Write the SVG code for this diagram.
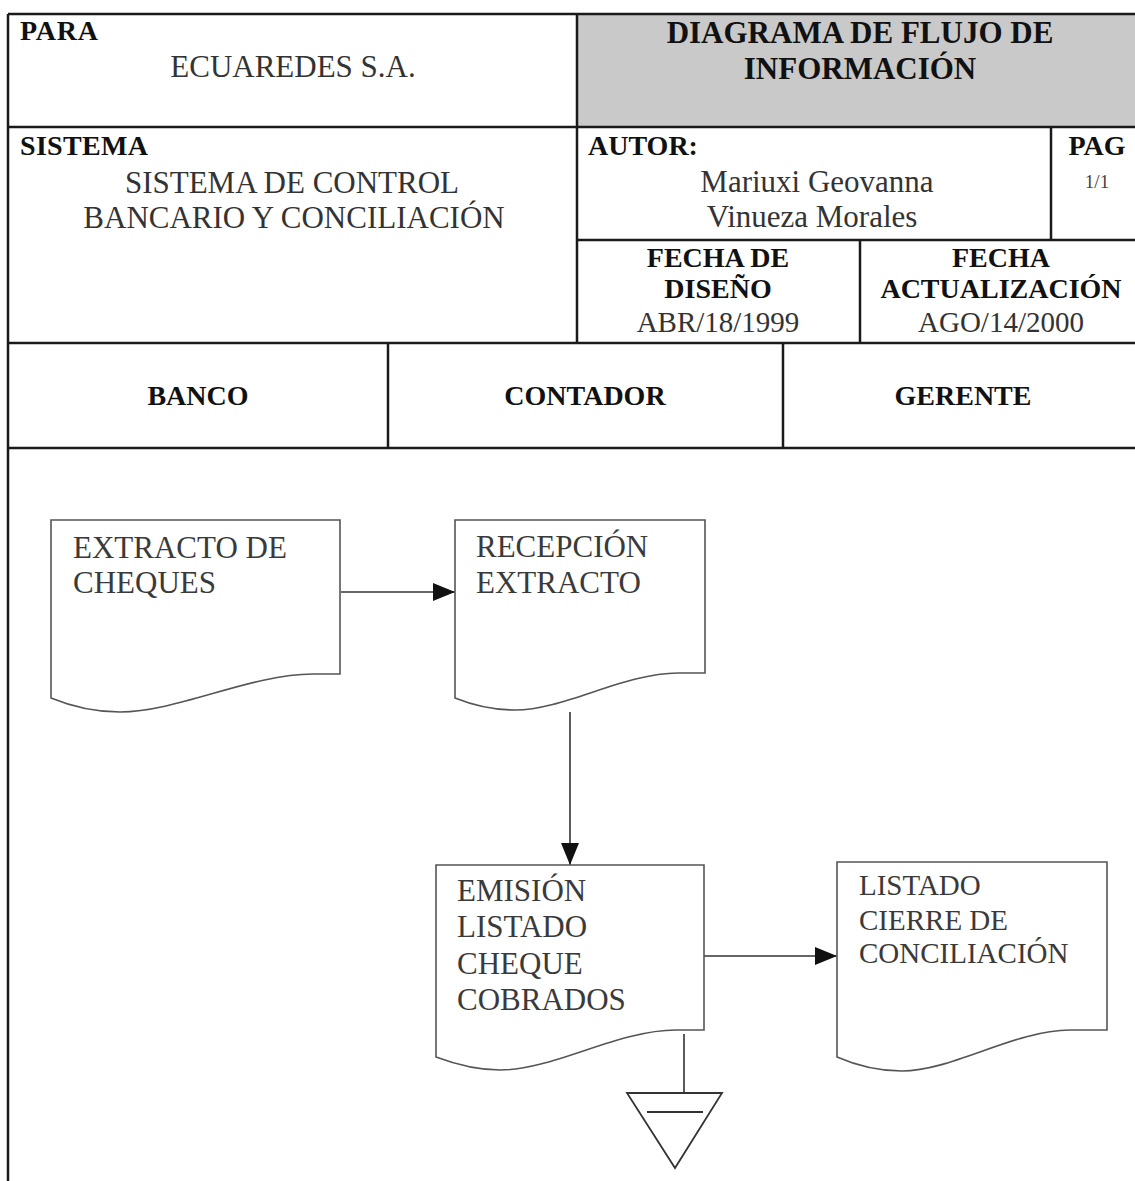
<svg xmlns="http://www.w3.org/2000/svg" width="1135" height="1181" viewBox="0 0 1135 1181">
<style>
  text { font-family: "Liberation Serif", "Times New Roman", serif; }
  .b { font-weight: bold; font-size: 28px; fill: #111; }
  .t { font-weight: bold; font-size: 31px; fill: #111; }
  .r { font-size: 31px; fill: #333; }
  .d { font-size: 29px; fill: #333; }
  .n { font-size: 31px; fill: #3a3a3a; }
  .m { text-anchor: middle; }
  .grid { stroke: #1a1a1a; stroke-width: 2.5; fill: none; }
  .doc { fill: #fff; stroke: #555; stroke-width: 1.6; }
  .conn { stroke: #333; stroke-width: 1.6; fill: none; }
</style>
<defs>
  <marker id="arr" markerUnits="userSpaceOnUse" markerWidth="24" markerHeight="20" refX="22" refY="9" orient="auto">
    <path d="M0,0 L22,9 L0,18 Z" fill="#111"/>
  </marker>
</defs>
<rect width="1135" height="1181" fill="#fff"/>

<g id="header">
  <rect x="577" y="14" width="558" height="113" fill="#c9c9c9"/>
  <g class="grid">
    <line x1="8" y1="14" x2="1135" y2="14"/>
    <line x1="8" y1="14" x2="8" y2="1181"/>
    <line x1="8" y1="127" x2="1135" y2="127"/>
    <line x1="577" y1="14" x2="577" y2="343"/>
    <line x1="577" y1="240" x2="1135" y2="240"/>
    <line x1="1051" y1="127" x2="1051" y2="240"/>
    <line x1="860" y1="240" x2="860" y2="343"/>
    <line x1="8" y1="343" x2="1135" y2="343"/>
    <line x1="388" y1="343" x2="388" y2="448"/>
    <line x1="783" y1="343" x2="783" y2="448"/>
    <line x1="8" y1="448" x2="1135" y2="448"/>
  </g>
  <text class="b" x="20" y="40" textLength="78">PARA</text>
  <text class="r m" x="293" y="77">ECUAREDES S.A.</text>
  <text class="t m" x="860" y="43">DIAGRAMA DE FLUJO DE</text>
  <text class="t m" x="860" y="79">INFORMACIÓN</text>
  <text class="b" x="20" y="155" textLength="128">SISTEMA</text>
  <text class="r m" x="292" y="193">SISTEMA DE CONTROL</text>
  <text class="r m" x="294" y="228">BANCARIO Y CONCILIACIÓN</text>
  <text class="b" x="588" y="155">AUTOR:</text>
  <text class="b m" x="1097" y="155">PAG</text>
  <text class="m" x="1097" y="188" style="font-size:19px;fill:#444">1/1</text>
  <text class="r m" x="817" y="192">Mariuxi Geovanna</text>
  <text class="r m" x="812" y="227">Vinueza Morales</text>
  <text class="b m" x="718" y="267">FECHA DE</text>
  <text class="b m" x="718" y="298">DISEÑO</text>
  <text class="d m" x="718" y="332">ABR/18/1999</text>
  <text class="b m" x="1001" y="267">FECHA</text>
  <text class="b m" x="1001" y="298">ACTUALIZACIÓN</text>
  <text class="d m" x="1001" y="332">AGO/14/2000</text>
</g>

<g id="lane-banco"><text class="b m" x="198" y="405">BANCO</text></g>
<g id="lane-contador"><text class="b m" x="585" y="405">CONTADOR</text></g>
<g id="lane-gerente"><text class="b m" x="963" y="405">GERENTE</text></g>

<g id="connectors">
  <line class="conn" x1="341" y1="592" x2="455" y2="592" marker-end="url(#arr)"/>
  <line class="conn" x1="570" y1="712" x2="570" y2="865" marker-end="url(#arr)"/>
  <line class="conn" x1="704" y1="956" x2="837" y2="956" marker-end="url(#arr)"/>
  <line class="conn" x1="684" y1="1034" x2="684" y2="1093"/>
</g>

<g id="doc-extracto">
  <path class="doc" d="M51,520 H340 V674 H313 C250,674 178,712 120,712 C92,712 68,705 51,698 Z"/>
  <text class="n" x="73" y="558">EXTRACTO DE</text>
  <text class="n" x="73" y="593">CHEQUES</text>
</g>

<g id="doc-recepcion">
  <path class="doc" d="M455,520 H705 V673 H678 C624,673 564,710 515,710 C490,710 470,704 455,698 Z"/>
  <text class="n" x="476" y="557">RECEPCIÓN</text>
  <text class="n" x="476" y="593">EXTRACTO</text>
</g>

<g id="doc-emision">
  <path class="doc" d="M436,865 H704 V1030 H676 C618,1030 553,1070 500,1070 C474,1070 452,1063 436,1057 Z"/>
  <text class="n" x="457" y="901">EMISIÓN</text>
  <text class="n" x="457" y="937">LISTADO</text>
  <text class="n" x="457" y="974">CHEQUE</text>
  <text class="n" x="457" y="1010">COBRADOS</text>
</g>

<g id="doc-listado">
  <path class="doc" d="M837,862 H1107 V1030 H1070 C1015,1030 952,1071 902,1071 C876,1071 853,1064 837,1057 Z"/>
  <text class="n" x="859" y="895" style="font-size:29px">LISTADO</text>
  <text class="n" x="859" y="930" style="font-size:29px">CIERRE DE</text>
  <text class="n" x="859" y="963" style="font-size:29px">CONCILIACIÓN</text>
</g>

<g id="archivo">
  <polygon points="627,1093 722,1093 675,1168" fill="#fff" stroke="#333" stroke-width="1.8"/>
  <line x1="647" y1="1112" x2="703" y2="1112" stroke="#333" stroke-width="2"/>
</g>
</svg>
